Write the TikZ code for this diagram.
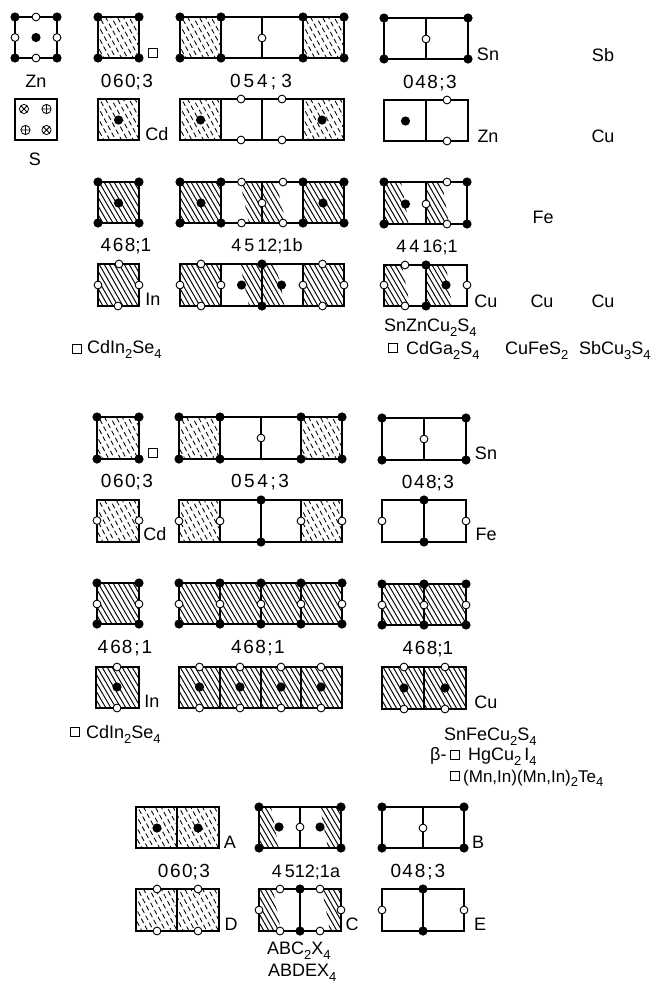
\documentclass[tikz,border=0pt]{standalone}
\usepackage{fontspec}
\setmainfont{Liberation Sans}
\newcommand\Sbs[1]{\raisebox{-0.28em}{\fontsize{13}{13}\selectfont #1}}
\newcommand\Sp{\kern 1.5pt}
\newcommand\Gp[1]{\kern #1pt}
\newcommand\HeavyH[4]{\begin{scope}\clip (#1,#3) rectangle (#2,#4);
  \pgfmathtruncatemacro\nn{(#2-#1+24)/5+1}
  \foreach \k in {0,...,\nn}{\draw[line width=0.95pt] ({#1-24+\k*5},#3) -- ({#1+\k*5},#4);}
\end{scope}}
% parallelogram-shaped hatch: top-left, top-right, bottom-left, bottom-right x, then y1, y2
\newcommand\HeavyP[6]{\begin{scope}\clip (#1,#5) -- (#2,#5) -- (#4,#6) -- (#3,#6) -- cycle;
  \pgfmathtruncatemacro\nn{(#4-#1+24)/5+1}
  \foreach \k in {0,...,\nn}{\draw[line width=0.95pt] ({#1-24+\k*5},#5) -- ({#1+\k*5},#6);}
\end{scope}}
\newcommand\LightH[4]{\begin{scope}\clip (#1,#3) rectangle (#2,#4);
  \pgfmathtruncatemacro\nn{(#2-#1+22)/5.9+1}
  \foreach \k in {0,...,\nn}{\pgfmathsetmacro\ph{mod(\k*3.3,8)}\draw[line width=0.85pt,dash pattern=on 5pt off 3pt,dash phase=\ph pt] ({#1-22+\k*5.9},#3) -- ({#1+\k*5.9},#4);}
\end{scope}}
\newcommand\Rc[4]{\draw[frameline] (#1,#3) rectangle (#2,#4);}
\newcommand\Vl[3]{\draw[frameline] (#1,#2) -- (#1,#3);}
\newcommand\Bd[1]{\foreach \x/\y in {#1}{\fill (\x,\y) circle[radius=4.6pt];}}
\newcommand\Wd[1]{\foreach \x/\y in {#1}{\draw[line width=0.9pt,fill=white] (\x,\y) circle[radius=3.9pt];}}
\newcommand\Sq[2]{\draw[line width=0.9pt] ({#1-4.5},{#2-4.5}) rectangle ({#1+4.5},{#2+4.5});}
\newcommand\OTimes[2]{\draw[line width=0.8pt] (#1,#2) circle[radius=4.6pt] ({#1-3.2},{#2-3.2}) -- ({#1+3.2},{#2+3.2}) ({#1-3.2},{#2+3.2}) -- ({#1+3.2},{#2-3.2});}
\newcommand\OPlus[2]{\draw[line width=0.8pt] (#1,#2) circle[radius=4.6pt] ({#1-4.6},#2) -- ({#1+4.6},#2) (#1,{#2-4.6}) -- (#1,{#2+4.6});}
\tikzset{
  frameline/.style={line width=1.05pt},
  lab/.style={font=\fontsize{18}{20}\selectfont,inner sep=0pt,anchor=base},
  numlab/.style={font=\fontsize{19}{21}\selectfont,inner sep=0pt,anchor=base},
  labw/.style={font=\fontsize{18}{20}\selectfont,inner sep=0pt,anchor=base west},
}
\begin{document}
\begin{tikzpicture}[x=1pt,y=-1pt]
\useasboundingbox (0,0) rectangle (652,983);
% ---------- group 1 ----------
\Rc{15}{57}{17}{58}
\Bd{15/17,57/17,15/58,57/58,36/37.5}
\Wd{36/17,15/37.5,57/37.5,36/58}
\node[lab] (t1) at (36,87) {Zn};
\Rc{15}{57}{99}{140}
\OTimes{24}{109}\OPlus{46.5}{109}\OPlus{25.5}{130}\OTimes{46.5}{130}
\node[lab] (t2) at (35,165) {S};
% col A
\LightH{98}{139}{17}{58}\Rc{98}{139}{17}{58}
\Bd{98/17,139/17,98/58,139/58}\Sq{153}{53}
\node[numlab] (t3) at (127,87) {0\Sp6\Sp0;\Sp3};
\LightH{98}{139}{99}{140}\Rc{98}{139}{99}{140}
\Bd{118.5/120}
\node[lab] (t4) at (157,140) {Cd};
% col B
\LightH{180}{221}{17}{58}\LightH{303}{344}{17}{58}
\Rc{180}{344}{17}{58}\Vl{221}{17}{58}\Vl{262}{17}{58}\Vl{303}{17}{58}
\Bd{180/17,221/17,303/17,344/17,180/58,221/58,303/58,344/58}\Wd{262/38}
\node[numlab] (t5) at (261,87) {0\Gp{3}5\Gp{3}4\Gp{3}; \Gp{0}3};
\LightH{180}{221}{99}{140}\LightH{303}{344}{99}{140}
\Rc{180}{344}{99}{140}\Vl{221}{99}{140}\Vl{262}{99}{140}\Vl{303}{99}{140}
\Bd{200.5/120,322/120}\Wd{241/99,282/99,241/140,282/140}
% col C
\Rc{384}{468}{18}{59}\Vl{426}{18}{59}
\Bd{384/18,468/18,384/59,468/59}\Wd{426/39}
\node[lab] (t6) at (488,60) {Sn};
\node[numlab] (t7) at (430,88) {0\Sp4\Sp8\Sp;\Sp3};
\Rc{384}{468}{100}{141}\Vl{426}{100}{141}
\Bd{405.5/121}\Wd{447/100,447/141}
\node[lab] (t8) at (488,142) {Zn};
\node[lab] (t9) at (603,61) {Sb};
\node[lab] (t10) at (603,142) {Cu};
% rows 3-4
\HeavyH{98}{139}{182}{223}\Rc{98}{139}{182}{223}
\Bd{98/182,139/182,98/223,139/223,118.5/203}
\node[numlab] (t11) at (126,251) {4\Sp6\Sp8;1};
\HeavyH{98}{139}{264}{306}\Rc{98}{139}{264}{306}
\Wd{119/264,98/285,139/285,118/306}
\node[lab] (t12) at (153,305) {In};
\HeavyH{180}{221}{182}{223}\HeavyP{240}{276}{249}{286}{182}{223}\HeavyH{303}{344}{182}{223}
\draw[frameline] (180,182) -- (344,182) (180,223) -- (344,223);
\Vl{180}{182}{223}\Vl{221}{182}{223}\Vl{262}{182}{223}\Vl{303}{182}{223}\Vl{344}{182}{223}
\Bd{180/182,221/182,303/182,344/182,180/223,221/223,303/223,344/223,201/203,323/203}
\Wd{241.5/182,283/182,241.5/223,283/223,262/203}
\node[lab] (t13) at (267,251) {4\,5\,12;1b};
\HeavyH{180}{221}{264}{306}\HeavyP{240}{276}{249}{285}{264}{306}\HeavyH{303}{344}{264}{306}
\Rc{180}{344}{264}{306}\Vl{221}{264}{306}\Vl{262}{264}{306}\Vl{303}{264}{306}
\Wd{201/264,201/306,180/285,221/285,303/285,344/285,322.5/264,322.5/306}
\Bd{262/264,262/306,241.5/285,281.5/285}
\HeavyP{384}{401}{384}{409}{182}{224}\HeavyP{426}{442}{426}{449}{182}{224}
\Rc{384}{467}{182}{224}\Vl{426}{182}{224}
\Bd{384/182,467/182,384/224,467/224,405.5/204}
\Wd{447/182,447/224,426/204}
\node[lab] (t14) at (427,252) {4\,4\,16;1};
\node[lab] (t15) at (543,223) {Fe};
\HeavyP{384}{402}{384}{410}{265}{306}\HeavyP{426}{446}{426}{452}{265}{306}
\Rc{384}{467}{265}{306}\Vl{426}{265}{306}
\Wd{405/265,405/306,384/285,467/285}
\Bd{426/265,426/306,446/285}
\node[lab] (t16) at (486,307) {Cu};
\node[lab] (t17) at (542,307) {Cu};
\node[lab] (t18) at (603,307) {Cu};
\node[labw] (t19) at (384,331) {SnZnCu\Sbs{2}S\Sbs{4}};
\Sq{393}{348}
\node[labw] (t20) at (406,354) {CdGa\Sbs{2}S\Sbs{4}};
\node[labw] (t21) at (505,354) {CuFeS\Sbs{2}};
\node[labw] (t22) at (579,354) {SbCu\Sbs{3}S\Sbs{4}};
\Sq{77}{349}
\node[labw] (t23) at (87,353) {CdIn\Sbs{2}Se\Sbs{4}};
% ---------- group 2 ----------
\LightH{97}{139}{417}{459}\Rc{97}{139}{417}{459}
\Bd{97/417,139/417,97/459,139/459}\Sq{153}{453}
\node[numlab] (u1) at (127,487) {0\Sp6\Sp0;\Sp3};
\LightH{97}{139}{500}{542}\Rc{97}{139}{500}{542}
\Wd{97/520.5,139/520.5}
\node[lab] (u2) at (155,540) {Cd};
\LightH{179}{220}{417}{459}\LightH{301}{342}{417}{459}
\Rc{179}{342}{417}{459}\Vl{220}{417}{459}\Vl{261}{417}{459}\Vl{301}{417}{459}
\Bd{179/417,220/417,301/417,342/417,179/459,220/459,301/459,342/459}\Wd{261/438}
\node[numlab] (u3) at (260,487) {0\Gp{2.6}5\Gp{2.6}4\Gp{2.6};\Gp{2.6}3};
\LightH{179}{220}{500}{542}\LightH{301}{342}{500}{542}
\Rc{179}{342}{500}{542}\Vl{220}{500}{542}\Vl{261}{500}{542}\Vl{301}{500}{542}
\Wd{179/521,220/521,301/521,342/521}\Bd{261/500,261/542}
\Rc{382}{466}{418}{460}\Vl{424}{418}{460}
\Bd{382/418,466/418,382/460,466/460}\Wd{424/439}
\node[lab] (u4) at (486,459) {Sn};
\node[numlab] (u5) at (428,488) {0\Sp4\Sp8;\Sp3};
\Rc{382}{466}{500}{542}\Vl{424}{500}{542}
\Bd{424/500,424/542}\Wd{382/521,466/521}
\node[lab] (u6) at (486,540) {Fe};
% row 3
\HeavyH{97}{139}{583}{624}\Rc{97}{139}{583}{624}
\Bd{97/583,139/583,97/624,139/624}\Wd{97/604,139/604}
\node[numlab] (u7) at (125,653) {4\Gp{2}6\Gp{1}8\Gp{2};\Gp{2}1};
\HeavyH{179}{342}{583}{624}\Rc{179}{342}{583}{624}\Vl{220}{583}{624}\Vl{261}{583}{624}\Vl{301}{583}{624}
\Bd{179/583,220/583,261/583,301/583,342/583,179/624,220/624,261/624,301/624,342/624}
\Wd{179/604,220/604,261/604,301/604,342/604}
\node[numlab] (u8) at (258,653) {4\Sp6\Sp8\Sp;\Sp1};
\HeavyH{382}{466}{584}{625}\Rc{382}{466}{584}{625}\Vl{424}{584}{625}
\Bd{382/584,424/584,466/584,382/625,424/625,466/625}\Wd{382/605,424/605,466/605}
\node[numlab] (u9) at (428,654) {4\Sp6\Sp8;1};
% row 4
\HeavyH{96}{139}{667}{708}\Rc{96}{139}{667}{708}
\Wd{117/667,117/708}\Bd{117/687}
\node[lab] (u10) at (152,707) {In};
\HeavyH{179}{342}{667}{708}\Rc{179}{342}{667}{708}\Vl{220}{667}{708}\Vl{261}{667}{708}\Vl{301}{667}{708}
\Wd{199.5/667,240/667,281/667,321/667,199.5/708,240/708,281/708,321/708}
\Bd{199.5/687,240/687,281/687,321/687}
\HeavyH{382}{466}{667}{709}\Rc{382}{466}{667}{709}\Vl{424}{667}{709}
\Wd{404/667,445/667,404/709,445/709}\Bd{404/688,445/688}
\node[lab] (u11) at (486,708) {Cu};
\Sq{75}{732}
\node[labw] (u12) at (86,738) {CdIn\Sbs{2}Se\Sbs{4}};
\node[labw] (u13) at (444,740) {SnFeCu\Sbs{2}S\Sbs{4}};
\node[labw] (u14) at (430,760) {β-};
\Sq{455}{755}
\node[labw] (u15) at (468,760) {HgCu\Sbs{2}\,I\Sbs{4}};
\Sq{455}{776}
\node[labw,font=\fontsize{17}{19}\selectfont] (u16) at (463,782) {(Mn,In)(Mn,In)\Sbs{2}Te\Sbs{4}};
% ---------- group 3 ----------
\LightH{136}{219}{807}{848}\Rc{136}{219}{807}{848}\Vl{177}{807}{848}
\Bd{157/828,198/828}
\node[lab] (v1) at (230,848) {A};
\node[numlab] (v2) at (184,877) {0\Sp6\Sp0;\Sp3};
\LightH{136}{219}{889}{931}\Rc{136}{219}{889}{931}\Vl{177}{889}{931}
\Wd{157/889,198/889,157/931,198/931}
\node[lab] (v3) at (231,930) {D};
\HeavyP{259}{271}{259}{279}{807}{848}\HeavyP{320}{341}{328}{341}{807}{848}
\Rc{259}{341}{807}{848}\Vl{300}{807}{848}
\Bd{259/807,341/807,259/848,341/848,279/827,320/827}\Wd{300/827}
\node[lab] (v4) at (306,877) {4\,512;1a};
\HeavyP{259}{273}{259}{281}{889}{931}\HeavyP{322}{341}{330}{341}{889}{931}
\Rc{259}{341}{889}{931}\Vl{300}{889}{931}
\Wd{280/889,320/889,280/931,320/931,259/910,341/910}\Bd{300/889,300/931}
\node[lab] (v5) at (352,930) {C};
\Rc{382}{464}{807}{848}\Vl{423}{807}{848}
\Bd{382/807,464/807,382/848,464/848}\Wd{423/828}
\node[lab] (v6) at (478,848) {B};
\node[numlab] (v7) at (418,877) {0\Gp{1}4\Gp{2}8\Gp{2};\Gp{2}3};
\Rc{382}{464}{889}{931}\Vl{423}{889}{931}
\Bd{423/889,423/931}\Wd{382/910,464/910}
\node[lab] (v8) at (480,930) {E};
\node[labw] (v9) at (267,954) {ABC\Sbs{2}X\Sbs{4}};
\node[labw] (v10) at (268,976) {ABDEX\Sbs{4}};
\end{tikzpicture}
\end{document}
